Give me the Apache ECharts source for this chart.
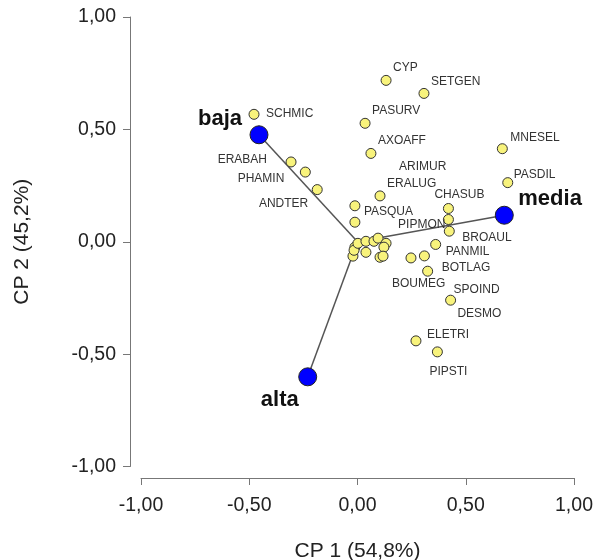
<!DOCTYPE html>
<html>
<head>
<meta charset="utf-8">
<script src="https://cdn.jsdelivr.net/npm/echarts@6/dist/echarts.min.js"></script>
<style>
html,body{margin:0;padding:0;background:#fff;}
#chart{width:594px;height:560px;}
</style>
</head>
<body>
<div id="chart"></div>
<script>
// ---- data ----
var speciesNames = ['SCHMIC','ERABAH','PHAMIN','ANDTER','CYP','SETGEN','PASURV','AXOAFF','ERALUG','PASQUA','','CHASUB','PIPMON','BROAUL','PANMIL','DESMO','BOUMEG','BOTLAG','SPOIND','ELETRI','PIPSTI','MNESEL','PASDIL',
  '','','','','','','','ARIMUR','','','',''];
var speciesX = [-0.478,-0.307,-0.241,-0.186,0.132,0.307,0.035,0.062,0.104,-0.012,-0.012,0.420,0.420,0.424,0.361,0.309,0.247,0.324,0.430,0.270,0.369,0.669,0.694,
  -0.012,-0.021,-0.016,0.002,0.039,0.039,0.076,0.095,0.132,0.122,0.104,0.118];
var speciesY = [0.567,0.355,0.310,0.232,0.718,0.660,0.527,0.393,0.204,0.160,0.087,0.148,0.099,0.047,-0.012,-0.063,-0.072,-0.131,-0.260,-0.441,-0.490,0.414,0.263,
  -0.024,-0.064,-0.038,-0.007,0.002,-0.047,0.002,0.016,-0.007,-0.024,-0.069,-0.064];
var groupNames = ['baja','media','alta'];
var groupX = [-0.455,0.678,-0.230];
var groupY = [0.476,0.118,-0.601];
var xTicks = [-1,-0.5,0,0.5,1];
var yTicks = [-1,-0.5,0,0.5,1];
var xTitle = 'CP 1 (54,8%)';
var yTitle = 'CP 2 (45,2%)';

// ---- label placement (style) ----
var labelPlace = {
  SCHMIC:['left',12,-1], ERABAH:['right',-24,-2], PHAMIN:['right',-21,7], ANDTER:['right',-9,14],
  CYP:['left',7,-13], SETGEN:['left',7,-12], PASURV:['left',7,-13], AXOAFF:['left',7,-13],
  ERALUG:['left',7,-12.5], ARIMUR:['left',21,-71], CHASUB:['left',-14,-14], PASQUA:['left',9,5.5],
  PIPMON:['right',-3,5], BROAUL:['left',13,7], PANMIL:['left',10,7], BOTLAG:['left',14,-4],
  BOUMEG:['left',-19,26], SPOIND:['left',3,-10], DESMO:['left',33,58], ELETRI:['left',11,-6],
  PIPSTI:['left',-8,20], MNESEL:['left',8,-11], PASDIL:['left',6,-8],
  baja:['right',-17,-16], media:['left',14,-16], alta:['right',-9,23]
};

var FONT = '"Liberation Sans", Arial, sans-serif';
function fmt(v){ return v.toFixed(2).replace('.', ','); }

var speciesData = speciesX.map(function(x,i){
  var n = speciesNames[i];
  var item = {value:[x, speciesY[i]], name:n};
  if (n && labelPlace[n]) {
    var p = labelPlace[n];
    item.label = {show:true, position:'inside', align:p[0], verticalAlign:'middle', offset:[p[1],p[2]],
      formatter:n, fontSize:12, color:'#333', fontFamily:FONT};
  }
  return item;
});
var groupData = groupX.map(function(x,i){
  var n = groupNames[i], p = labelPlace[n];
  return {value:[x, groupY[i]], name:n,
    label:{show:true, position:'inside', align:p[0], verticalAlign:'middle', offset:[p[1],p[2]],
      formatter:n, fontSize:22, fontWeight:'bold', color:'#111', fontFamily:FONT}};
});

var lineSeries = groupX.map(function(x,i){
  return {type:'line', data:[[0,0],[x, groupY[i]]], symbol:'none', silent:true, z:1,
    lineStyle:{color:'#555', width:1.5}, animation:false};
});

var axisCommon = {
  type:'value', min:-1, max:1, interval:0.5,
  splitLine:{show:false},
  axisLine:{show:true, onZero:false, lineStyle:{color:'#777', width:1}},
  axisTick:{show:true, length:7, lineStyle:{color:'#777'}},
  nameLocation:'middle',
  nameTextStyle:{fontSize:21, color:'#222', fontFamily:FONT}
};

var chart = echarts.init(document.getElementById('chart'), null, {renderer:'canvas'});
chart.setOption({
  animation:false,
  backgroundColor:'#fff',
  grid:{left:141, right:20, top:17, bottom:93.5, containLabel:false, outerBoundsMode:'none'},
  xAxis:Object.assign({}, axisCommon, {
    offset:11.5, name:xTitle, nameGap:63,
    axisLabel:{margin:18, fontSize:19.5, color:'#222', fontFamily:FONT,
      formatter:function(v){ return xTicks.indexOf(v) >= 0 ? fmt(v) : ''; }}
  }),
  yAxis:Object.assign({}, axisCommon, {
    offset:11, name:yTitle, nameGap:97, nameRotate:90,
    axisLabel:{margin:14, fontSize:19.5, color:'#222', fontFamily:FONT,
      formatter:function(v){ return yTicks.indexOf(v) >= 0 ? fmt(v) : ''; }}
  }),
  series: lineSeries.concat([
    {type:'scatter', data:speciesData, symbolSize:10, z:3,
      itemStyle:{color:'#f8f37c', borderColor:'#333', borderWidth:1, opacity:1},
      label:{show:false}, emphasis:{disabled:true}},
    {type:'scatter', data:groupData, symbolSize:18, z:4,
      itemStyle:{color:'#0000ff', borderColor:'#222', borderWidth:1, opacity:1},
      emphasis:{disabled:true}}
  ])
});
</script>
</body>
</html>
